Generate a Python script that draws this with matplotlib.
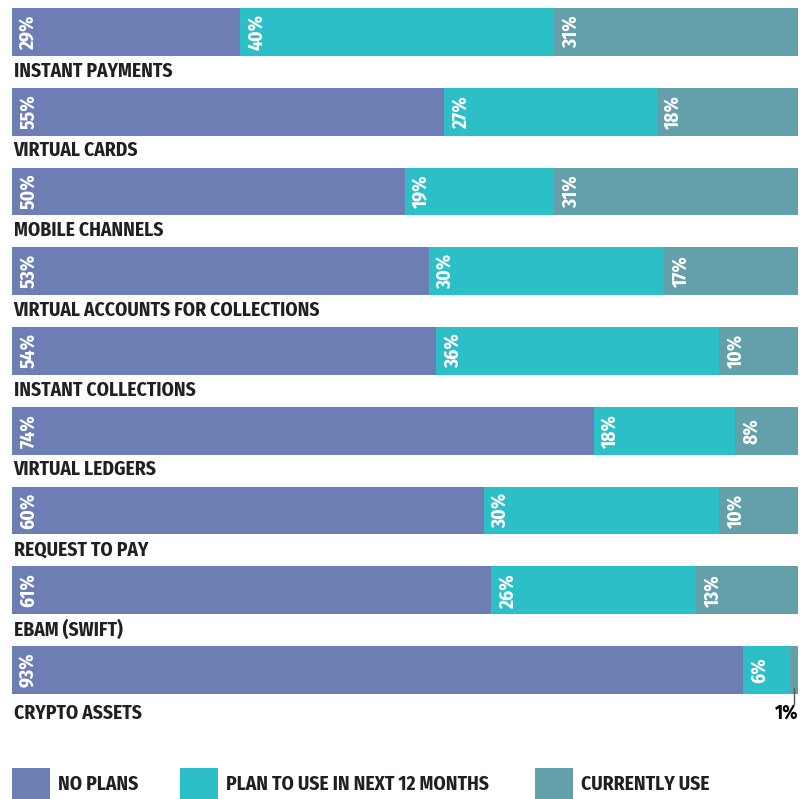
"""Stacked horizontal bars: adoption plans for payment technologies."""

import matplotlib

matplotlib.use("Agg")
import matplotlib.pyplot as plt
from matplotlib.patches import Rectangle

plt.rcParams["font.family"] = ["Fira Sans Condensed", "DejaVu Sans"]
plt.rcParams["font.weight"] = "bold"

# Chart data, top to bottom
categories = [
    "INSTANT PAYMENTS",
    "VIRTUAL CARDS",
    "MOBILE CHANNELS",
    "VIRTUAL ACCOUNTS FOR COLLECTIONS",
    "INSTANT COLLECTIONS",
    "VIRTUAL LEDGERS",
    "REQUEST TO PAY",
    "EBAM (SWIFT)",
    "CRYPTO ASSETS",
]
no_plans = [29, 55, 50, 53, 54, 74, 60, 61, 93]
plan_12m = [40, 27, 19, 30, 36, 18, 30, 26, 6]
currently = [31, 18, 31, 17, 10, 8, 10, 13, 1]

series_names = ["NO PLANS", "PLAN TO USE IN NEXT 12 MONTHS", "CURRENTLY USE"]
colors = ["#6C7EB3", "#2DBFC8", "#64A0AA"]
text_dark = "#231F20"
FS = 14

W, H = 804, 799
fig = plt.figure(figsize=(W / 100, H / 100), dpi=100)


def fx(px):
    return px / W


def fy(py):
    return 1 - py / H


# axes spans from top of first bar (8 px) to bottom of last bar (694 px)
ax = fig.add_axes([fx(12), fy(694), fx(798) - fx(12), fy(8) - fy(694)])
bar_h = 0.6
ypos = list(range(len(categories)))

left = [0] * len(categories)
for values, color in zip([no_plans, plan_12m, currently], colors):
    ax.barh(ypos, values, left=left, height=bar_h, color=color, linewidth=0)
    for y, v, l in zip(ypos, values, left):
        if v >= 5:
            ax.annotate(
                f"{v}%",
                xy=(l, y),
                xytext=(5, 0),
                textcoords="offset points",
                rotation=90,
                ha="left",
                va="center",
                color="white",
                fontsize=FS,
                fontweight="bold",
            )
    left = [a + b for a, b in zip(left, values)]

# small segments get an outside label with a tick
for y, v, l in zip(ypos, currently, [a + b for a, b in zip(no_plans, plan_12m)]):
    if v < 5:
        xm = l + v / 2
        ax.plot([xm, xm], [y + 0.22, y + 0.42], color="#555555", lw=1, clip_on=False)
        ax.text(100, y + 0.54, f"{v}%", ha="right", va="center",
                color="black", fontsize=FS, fontweight="bold", clip_on=False)

# category names sit below each bar
for y, name in zip(ypos, categories):
    off = 0.54 if y == ypos[-1] else 0.49
    ax.text(0.2, y + off, name, ha="left", va="center", color=text_dark,
            fontsize=FS, fontweight="bold", clip_on=False)

ax.set_xlim(0, 100)
ax.set_ylim(len(categories) - 1 + bar_h / 2, -bar_h / 2)
ax.axis("off")

# legend drawn at the bottom in figure pixels
legend_x = [12, 180, 535]
for x0, name, color in zip(legend_x, series_names, colors):
    fig.add_artist(Rectangle((fx(x0), fy(799)), fx(38), fy(768) - fy(799),
                             transform=fig.transFigure, color=color, lw=0))
    fig.text(fx(x0 + 46), fy(784), name, ha="left", va="center",
             color=text_dark, fontsize=FS, fontweight="bold")

fig.savefig("out.png", dpi=100)
